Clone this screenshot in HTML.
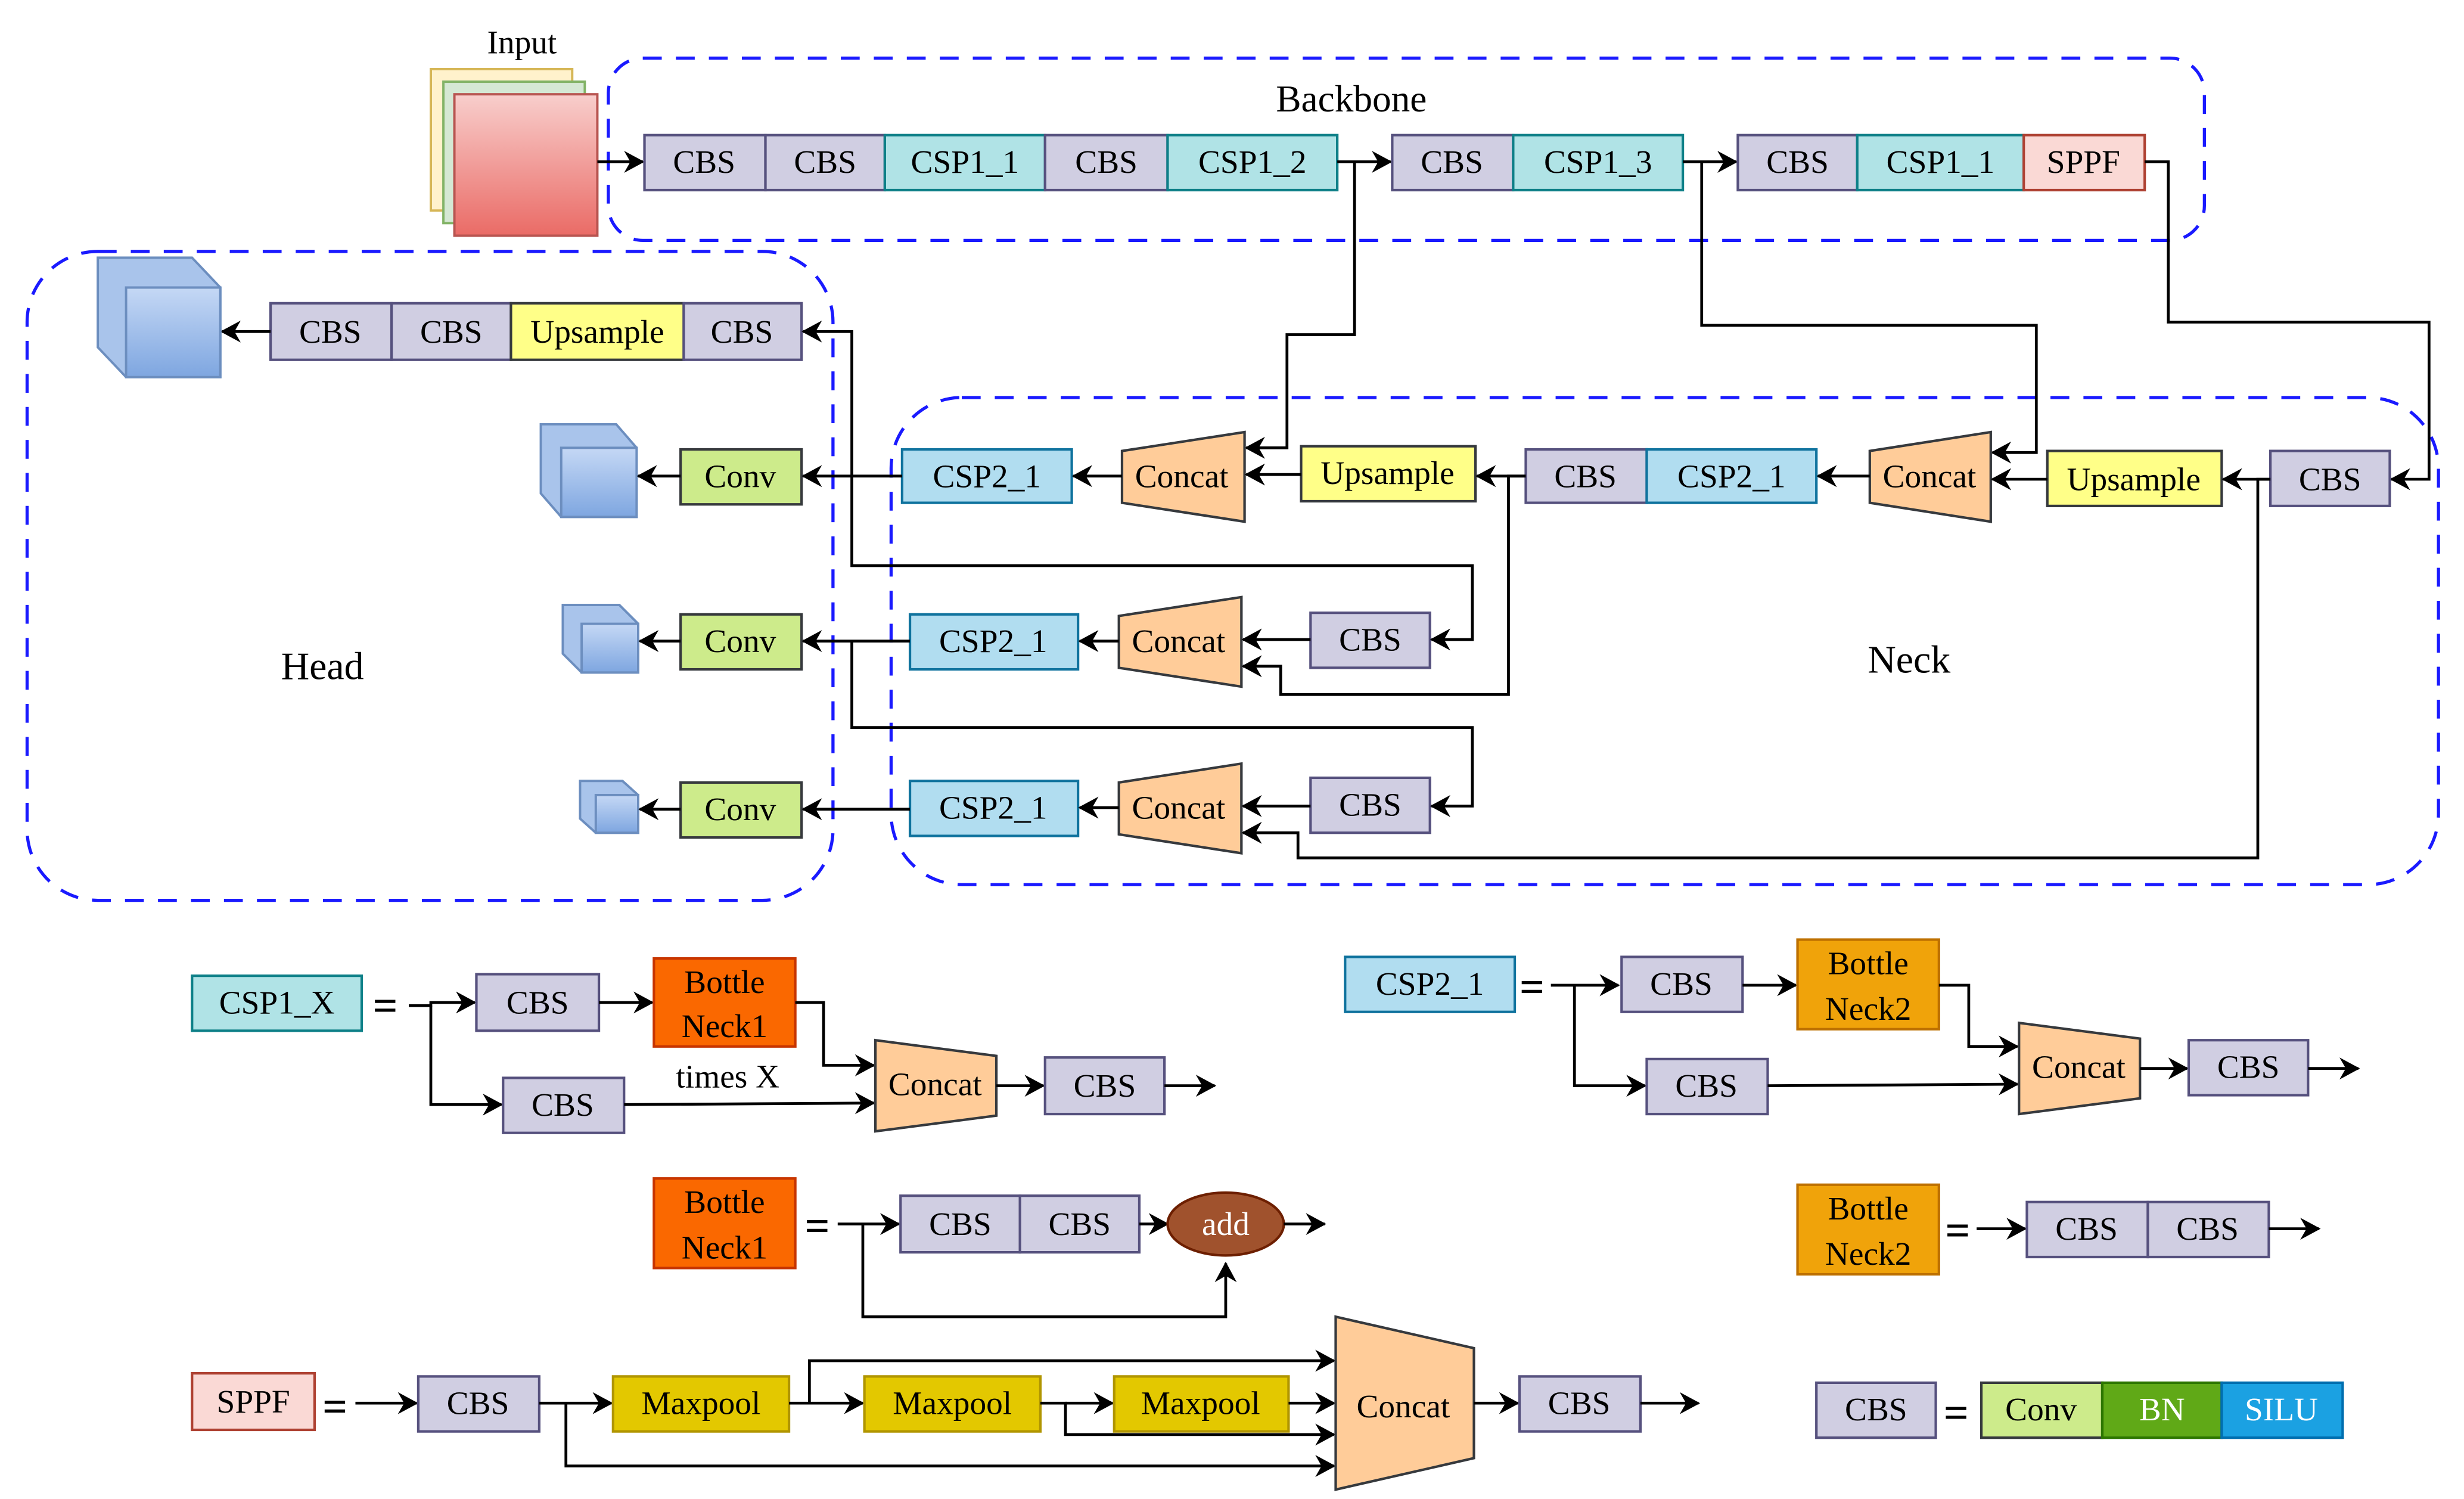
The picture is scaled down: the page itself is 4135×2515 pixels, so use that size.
<!DOCTYPE html>
<html><head><meta charset="utf-8"><style>
html,body{margin:0;padding:0;background:#fff}
svg{display:block}
text{font-family:"Liberation Serif",serif;font-size:21px;text-anchor:middle;dominant-baseline:central;fill:#000}
.cbs{fill:#d0cee2;stroke:#56517e;stroke-width:1.6}
.c1{fill:#b0e3e6;stroke:#0e8088;stroke-width:1.6}
.c2{fill:#b1ddf0;stroke:#10739e;stroke-width:1.6}
.up{fill:#ffff88;stroke:#36393d;stroke-width:1.6}
.cc{fill:#ffcc99;stroke:#36393d;stroke-width:1.6}
.cv{fill:#cdeb8b;stroke:#36393d;stroke-width:1.6}
.b1{fill:#fa6800;stroke:#c73500;stroke-width:1.6}
.b2{fill:#f0a30a;stroke:#bd7000;stroke-width:1.6}
.sp{fill:#fad9d5;stroke:#ae4132;stroke-width:1.6}
.mp{fill:#e3c800;stroke:#b09500;stroke-width:1.6}
.ln{fill:none;stroke:#000;stroke-width:1.8}
.ar{fill:none;stroke:#000;stroke-width:1.8;marker-end:url(#a)}
.dash{fill:none;stroke:#1a1aff;stroke-width:2;stroke-dasharray:12 9}
.eq{font-size:28px;font-weight:bold}
</style></head><body>
<svg width="4135" height="2515" viewBox="0 0 1568 954" xmlns="http://www.w3.org/2000/svg">
<defs>
<marker id="a" markerWidth="14" markerHeight="14" refX="12" refY="7" orient="auto" markerUnits="userSpaceOnUse">
<path d="M0,0 L13,7 L0,14 L4,7 z" fill="#000"/></marker>
<linearGradient id="rg" x1="0" y1="0" x2="0" y2="1"><stop offset="0" stop-color="#f8cecc"/><stop offset="1" stop-color="#ea6b66"/></linearGradient>
<linearGradient id="bg" x1="0" y1="0" x2="0" y2="1"><stop offset="0" stop-color="#c5d8f5"/><stop offset="1" stop-color="#7ea6e0"/></linearGradient>
</defs>

<!-- dashed groups -->
<rect class="dash" x="387" y="37" width="1016" height="116" rx="22"/>
<rect class="dash" x="17" y="160" width="513" height="413" rx="45"/>
<rect class="dash" x="567" y="253" width="985" height="310" rx="45"/>
<text x="860" y="63" style="font-size:24px">Backbone</text>
<text x="205" y="424" style="font-size:25px">Head</text>
<text x="1215" y="420" style="font-size:25px">Neck</text>

<!-- input -->
<text x="332" y="27">Input</text>
<rect x="274" y="44" width="90" height="90" fill="#fff2cc" stroke="#d6b656" stroke-width="1.5"/>
<rect x="282" y="52" width="90" height="90" fill="#d5e8d4" stroke="#82b366" stroke-width="1.5"/>
<rect x="289" y="60" width="91" height="90" fill="url(#rg)" stroke="#b85450" stroke-width="1.5"/>

<!-- backbone row -->
<path class="ar" d="M380,103 H409"/>
<rect class="cbs" x="410" y="86" width="77" height="35"/><text x="448" y="103">CBS</text>
<rect class="cbs" x="487" y="86" width="76" height="35"/><text x="525" y="103">CBS</text>
<rect class="c1" x="563" y="86" width="102" height="35"/><text x="614" y="103">CSP1_1</text>
<rect class="cbs" x="665" y="86" width="78" height="35"/><text x="704" y="103">CBS</text>
<rect class="c1" x="743" y="86" width="108" height="35"/><text x="797" y="103">CSP1_2</text>
<path class="ar" d="M851,103 H885"/>
<rect class="cbs" x="886" y="86" width="77" height="35"/><text x="924" y="103">CBS</text>
<rect class="c1" x="963" y="86" width="108" height="35"/><text x="1017" y="103">CSP1_3</text>
<path class="ar" d="M1071,103 H1105"/>
<rect class="cbs" x="1106" y="86" width="76" height="35"/><text x="1144" y="103">CBS</text>
<rect class="c1" x="1182" y="86" width="106" height="35"/><text x="1235" y="103">CSP1_1</text>
<rect class="sp" x="1288" y="86" width="77" height="35"/><text x="1326" y="103">SPPF</text>

<!-- long connectors -->
<path class="ar" d="M1365,103 H1380 V205 H1546 V305 H1522"/>
<path class="ar" d="M1083,103 V207 H1296 V288 H1268"/>
<path class="ar" d="M862,103 V213 H819 V285 H793"/>

<!-- head row -->
<rect class="cbs" x="172" y="193" width="77" height="36"/><text x="210" y="211">CBS</text>
<rect class="cbs" x="249" y="193" width="76" height="36"/><text x="287" y="211">CBS</text>
<rect class="up" x="325" y="193" width="110" height="36"/><text x="380" y="211">Upsample</text>
<rect class="cbs" x="435" y="193" width="75" height="36"/><text x="472" y="211">CBS</text>
<path class="ar" d="M172,211 H141"/>

<!-- cubes -->
<g stroke="#6c8ebf" stroke-width="1.5">
<polygon points="62,164 122,164 140,183 140,240 80,240 62,221" fill="#a9c4eb"/>
<rect x="80" y="183" width="60" height="57" fill="url(#bg)"/>
<polygon points="344,270 392,270 405,285 405,329 357,329 344,314" fill="#a9c4eb"/>
<rect x="357" y="285" width="48" height="44" fill="url(#bg)"/>
<polygon points="358,385 394,385 406,397 406,428 370,428 358,416" fill="#a9c4eb"/>
<rect x="370" y="397" width="36" height="31" fill="url(#bg)"/>
<polygon points="369,497 396,497 406,506 406,530 379,530 369,521" fill="#a9c4eb"/>
<rect x="379" y="506" width="27" height="24" fill="url(#bg)"/>
</g>

<!-- conv -->
<rect class="cv" x="433" y="286" width="77" height="35"/><text x="471" y="303">Conv</text>
<rect class="cv" x="433" y="391" width="77" height="35"/><text x="471" y="408">Conv</text>
<rect class="cv" x="433" y="498" width="77" height="35"/><text x="471" y="515">Conv</text>
<path class="ar" d="M433,303 H406"/>
<path class="ar" d="M433,408 H407"/>
<path class="ar" d="M433,515 H407"/>

<!-- neck row1 -->
<rect class="c2" x="574" y="286" width="108" height="34"/><text x="628" y="303">CSP2_1</text>
<polygon class="cc" points="714,287 792,275 792,332 714,320"/><text x="752" y="303">Concat</text>
<rect class="up" x="828" y="284" width="111" height="35"/><text x="883" y="301">Upsample</text>
<rect class="cbs" x="971" y="286" width="77" height="34"/><text x="1009" y="303">CBS</text>
<rect class="c2" x="1048" y="286" width="108" height="34"/><text x="1102" y="303">CSP2_1</text>
<polygon class="cc" points="1190,287 1267,275 1267,332 1190,320"/><text x="1228" y="303">Concat</text>
<rect class="up" x="1303" y="287" width="111" height="35"/><text x="1358" y="305">Upsample</text>
<rect class="cbs" x="1445" y="287" width="76" height="35"/><text x="1483" y="305">CBS</text>
<path class="ar" d="M1445,305 H1415"/>
<path class="ar" d="M1303,305 H1268"/>
<path class="ar" d="M1190,303 H1157"/>
<path class="ar" d="M971,303 H940"/>
<path class="ar" d="M828,302 H793"/>
<path class="ar" d="M714,303 H683"/>
<path class="ar" d="M574,303 H511"/>

<!-- row 2 -->
<rect class="c2" x="579" y="391" width="107" height="35"/><text x="632" y="408">CSP2_1</text>
<polygon class="cc" points="712,392 790,380 790,437 712,425"/><text x="750" y="408">Concat</text>
<rect class="cbs" x="834" y="390" width="76" height="35"/><text x="872" y="407">CBS</text>
<path class="ar" d="M834,407 H791"/>
<path class="ar" d="M712,408 H687"/>
<path class="ar" d="M579,408 H511"/>
<path class="ar" d="M971,303 H960 V442 H815 V424 H791"/>
<path class="ar" d="M542,303 V211 H511"/>
<path class="ar" d="M542,303 V360 H937 V407 H911"/>

<!-- row 3 -->
<rect class="c2" x="579" y="497" width="107" height="35"/><text x="632" y="514">CSP2_1</text>
<polygon class="cc" points="712,498 790,486 790,543 712,531"/><text x="750" y="514">Concat</text>
<rect class="cbs" x="834" y="495" width="76" height="35"/><text x="872" y="512">CBS</text>
<path class="ar" d="M834,513 H791"/>
<path class="ar" d="M712,514 H687"/>
<path class="ar" d="M579,515 H511"/>
<path class="ar" d="M542,408 V463 H937 V513 H911"/>
<path class="ar" d="M1445,305 H1437 V546 H826 V530 H791"/>

<!-- CSP1_X def -->
<rect class="c1" x="122" y="621" width="108" height="35"/><text x="176" y="638">CSP1_X</text>
<text class="eq" x="245" y="640">=</text>
<path class="ar" d="M260,640 H274 V638 H302"/>
<path class="ar" d="M274,640 V703 H319"/>
<rect class="cbs" x="303" y="620" width="78" height="36"/><text x="342" y="638">CBS</text>
<path class="ar" d="M381,638 H415"/>
<rect class="b1" x="416" y="610" width="90" height="56"/><text x="461" y="625">Bottle</text><text x="461" y="653">Neck1</text>
<path class="ar" d="M506,638 H524 V678 H556"/>
<text x="463" y="685">times X</text>
<rect class="cbs" x="320" y="686" width="77" height="35"/><text x="358" y="703">CBS</text>
<path class="ar" d="M397,703 L556,702"/>
<polygon class="cc" points="557,662 634,672 634,710 557,720"/><text x="595" y="690">Concat</text>
<path class="ar" d="M634,691 H664"/>
<rect class="cbs" x="665" y="673" width="76" height="36"/><text x="703" y="691">CBS</text>
<path class="ar" d="M741,691 H773"/>

<!-- CSP2_1 def -->
<rect class="c2" x="856" y="609" width="108" height="35"/><text x="910" y="626">CSP2_1</text>
<text class="eq" x="975" y="628">=</text>
<path class="ar" d="M987,627 H1030"/>
<path class="ar" d="M1002,627 V691 H1047"/>
<rect class="cbs" x="1032" y="609" width="77" height="35"/><text x="1070" y="626">CBS</text>
<path class="ar" d="M1109,627 H1143"/>
<rect class="b2" x="1144" y="598" width="90" height="57"/><text x="1189" y="613">Bottle</text><text x="1189" y="642">Neck2</text>
<path class="ar" d="M1234,627 H1253 V666 H1284"/>
<rect class="cbs" x="1048" y="674" width="77" height="35"/><text x="1086" y="691">CBS</text>
<path class="ar" d="M1125,691 L1284,690"/>
<polygon class="cc" points="1285,651 1362,661 1362,699 1285,709"/><text x="1323" y="679">Concat</text>
<path class="ar" d="M1362,680 H1392"/>
<rect class="cbs" x="1393" y="662" width="76" height="35"/><text x="1431" y="679">CBS</text>
<path class="ar" d="M1469,680 H1501"/>

<!-- BottleNeck1 def -->
<rect class="b1" x="416" y="750" width="90" height="57"/><text x="461" y="765">Bottle</text><text x="461" y="794">Neck1</text>
<text class="eq" x="520" y="780">=</text>
<path class="ar" d="M533,779 H572"/>
<path class="ar" d="M549,779 V838 H780 V804"/>
<rect class="cbs" x="573" y="761" width="76" height="36"/><text x="611" y="779">CBS</text>
<rect class="cbs" x="649" y="761" width="76" height="36"/><text x="687" y="779">CBS</text>
<path class="ar" d="M725,779 H743"/>
<ellipse cx="780" cy="779" rx="37" ry="20" fill="#a0522d" stroke="#6d1f00" stroke-width="1.6"/>
<text x="780" y="779" style="fill:#fff">add</text>
<path class="ar" d="M817,779 H843"/>

<!-- BottleNeck2 def -->
<rect class="b2" x="1144" y="754" width="90" height="57"/><text x="1189" y="769">Bottle</text><text x="1189" y="798">Neck2</text>
<text class="eq" x="1246" y="783">=</text>
<path class="ar" d="M1258,782 H1289"/>
<rect class="cbs" x="1290" y="765" width="77" height="35"/><text x="1328" y="782">CBS</text>
<rect class="cbs" x="1367" y="765" width="77" height="35"/><text x="1405" y="782">CBS</text>
<path class="ar" d="M1444,782 H1476"/>

<!-- SPPF def -->
<rect class="sp" x="122" y="874" width="78" height="36"/><text x="161" y="892">SPPF</text>
<text class="eq" x="213" y="895">=</text>
<path class="ar" d="M226,893 H265"/>
<rect class="cbs" x="266" y="876" width="77" height="35"/><text x="304" y="893">CBS</text>
<path class="ar" d="M343,893 H389"/>
<path class="ar" d="M360,893 V933 H849"/>
<rect class="mp" x="390" y="876" width="112" height="35"/><text x="446" y="893">Maxpool</text>
<path class="ar" d="M502,893 H515 V866 H849"/>
<path class="ar" d="M515,893 H549"/>
<rect class="mp" x="550" y="876" width="112" height="35"/><text x="606" y="893">Maxpool</text>
<path class="ar" d="M662,893 H678 V913 H849"/>
<path class="ar" d="M678,893 H708"/>
<rect class="mp" x="709" y="876" width="111" height="35"/><text x="764" y="893">Maxpool</text>
<path class="ar" d="M820,893 H849"/>
<polygon class="cc" points="850,838 938,858 938,928 850,948"/><text x="893" y="895">Concat</text>
<path class="ar" d="M938,893 H966"/>
<rect class="cbs" x="967" y="876" width="77" height="35"/><text x="1005" y="893">CBS</text>
<path class="ar" d="M1044,893 H1081"/>

<!-- CBS def -->
<rect class="cbs" x="1156" y="880" width="76" height="35"/><text x="1194" y="897">CBS</text>
<text class="eq" x="1245" y="899">=</text>
<rect class="cv" x="1261" y="880" width="77" height="35"/><text x="1299" y="897">Conv</text>
<rect x="1338" y="880" width="76" height="35" fill="#60a917" stroke="#2d7600" stroke-width="1.6"/><text x="1376" y="897" style="fill:#fff">BN</text>
<rect x="1414" y="880" width="77" height="35" fill="#1ba1e2" stroke="#006eaf" stroke-width="1.6"/><text x="1452" y="897" style="fill:#fff">SILU</text>
</svg>
</body></html>
